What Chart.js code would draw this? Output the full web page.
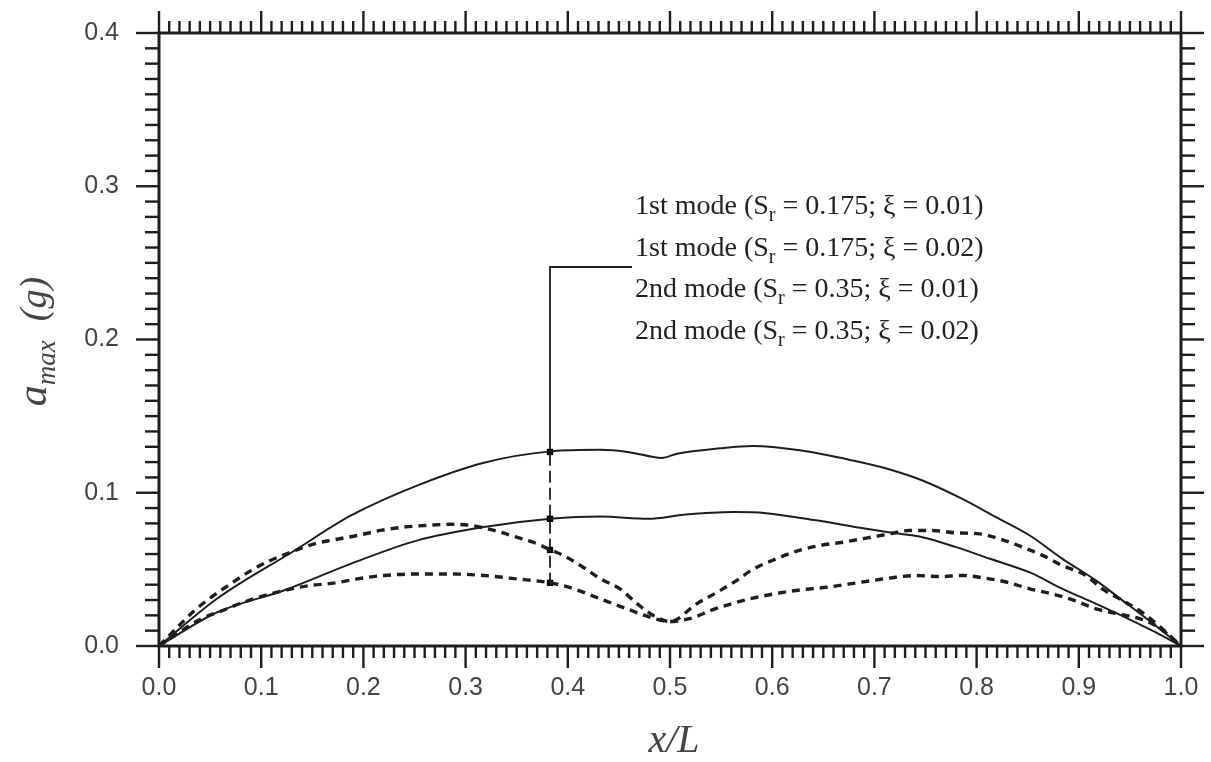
<!DOCTYPE html>
<html>
<head>
<meta charset="utf-8">
<script src="https://cdn.jsdelivr.net/npm/chart.js@4.4.1/dist/chart.umd.min.js"></script>
<style>
  html, body { margin: 0; padding: 0; background: #fff; }
  #wrap { width: 1211px; height: 762px; position: relative; }
</style>
</head>
<body>
<div id="wrap"><canvas id="amaxChart"></canvas></div>
<script>
// values: x/L and a_max (g)
const mode1Xi01X = [0, 0.057, 0.132, 0.1875, 0.253, 0.318, 0.383, 0.432, 0.46, 0.492, 0.507, 0.549, 0.581, 0.627, 0.679, 0.715, 0.747, 0.786, 0.819, 0.852, 0.884, 0.917, 0.943, 0.969, 1.0];
const mode1Xi01Y = [0, 0.031, 0.062, 0.085, 0.1048, 0.1196, 0.127, 0.128, 0.1265, 0.1227, 0.1255, 0.129, 0.1305, 0.1277, 0.121, 0.1152, 0.108, 0.096, 0.0841, 0.0721, 0.0569, 0.0427, 0.0296, 0.0165, 0];

const mode1Xi02X = [0, 0.057, 0.122, 0.1875, 0.253, 0.318, 0.383, 0.432, 0.479, 0.513, 0.562, 0.594, 0.643, 0.692, 0.725, 0.747, 0.78, 0.813, 0.852, 0.884, 0.917, 0.949, 0.975, 1.0];
const mode1Xi02Y = [0, 0.022, 0.0362, 0.0536, 0.0689, 0.0776, 0.083, 0.0845, 0.083, 0.0856, 0.0874, 0.0867, 0.082, 0.0765, 0.0732, 0.071, 0.0645, 0.0569, 0.048, 0.0373, 0.0275, 0.0176, 0.009, 0];

const mode2Xi01X = [0, 0.018, 0.0345, 0.051, 0.070, 0.090, 0.109, 0.129, 0.152, 0.171, 0.194, 0.217, 0.240, 0.262, 0.285, 0.305, 0.328, 0.350, 0.370, 0.383, 0.396, 0.415, 0.432, 0.451, 0.468, 0.484, 0.500, 0.526, 0.546, 0.565, 0.581, 0.604, 0.624, 0.647, 0.669, 0.692, 0.715, 0.734, 0.757, 0.780, 0.803, 0.822, 0.845, 0.865, 0.884, 0.907, 0.923, 0.943, 0.962, 0.980, 1.0];
const mode2Xi01Y = [0, 0.0122, 0.023, 0.0318, 0.0405, 0.0492, 0.0558, 0.0612, 0.0667, 0.0693, 0.0721, 0.0754, 0.0776, 0.0787, 0.0794, 0.0787, 0.0754, 0.071, 0.0667, 0.0627, 0.059, 0.0514, 0.0438, 0.0373, 0.0275, 0.0198, 0.0159, 0.0275, 0.035, 0.0427, 0.050, 0.0569, 0.0619, 0.0656, 0.0677, 0.0704, 0.0732, 0.0754, 0.0754, 0.0738, 0.0732, 0.070, 0.0645, 0.059, 0.0525, 0.046, 0.0373, 0.0296, 0.022, 0.0122, 0];

const mode2Xi02X = [0, 0.041, 0.0605, 0.083, 0.103, 0.126, 0.148, 0.171, 0.194, 0.22, 0.253, 0.285, 0.318, 0.35, 0.383, 0.406, 0.432, 0.458, 0.481, 0.50, 0.52, 0.542, 0.565, 0.585, 0.607, 0.63, 0.653, 0.676, 0.698, 0.721, 0.741, 0.764, 0.786, 0.809, 0.83, 0.852, 0.874, 0.896, 0.917, 0.939, 0.959, 0.978, 1.0];
const mode2Xi02Y = [0, 0.0176, 0.0227, 0.0286, 0.0329, 0.0368, 0.0395, 0.041, 0.0438, 0.046, 0.047, 0.047, 0.046, 0.0438, 0.0412, 0.0373, 0.0307, 0.0242, 0.0187, 0.016, 0.018, 0.0237, 0.0285, 0.0318, 0.0346, 0.0368, 0.0383, 0.0405, 0.0427, 0.0449, 0.046, 0.0453, 0.046, 0.0442, 0.0416, 0.0373, 0.034, 0.0296, 0.0242, 0.0209, 0.018, 0.0122, 0];

// leader line from the labels down to x/L = 0.383
const leaderX = [0.4628, 0.3826, 0.3826];
const leaderY = [0.2473, 0.2473, 0.1285];
const dropX = [0.3826, 0.3826];
const dropY = [0.1255, 0.0412];
const markerX = [0.3826, 0.3826, 0.3826, 0.3826];
const markerY = [0.1266, 0.083, 0.0627, 0.0412];

// label text, split into [text, subscript, text]
const seriesLabels = [
  ['1st mode (S', 'r', ' = 0.175; \u03BE = 0.01)'],
  ['1st mode (S', 'r', ' = 0.175; \u03BE = 0.02)'],
  ['2nd mode (S', 'r', ' = 0.35; \u03BE = 0.01)'],
  ['2nd mode (S', 'r', ' = 0.35; \u03BE = 0.02)']
];

const pts = (xs, ys) => xs.map((x, i) => ({ x: x, y: ys[i] }));

const INK = '#1e1e1e';
const SERIF = '"Liberation Serif", "Times New Roman", serif';
const SANS = '"Liberation Sans", Arial, sans-serif';

const solid = (data) => ({
  data: data, borderColor: INK, borderWidth: 2, fill: false,
  cubicInterpolationMode: 'monotone', pointRadius: 0
});
const dashed = (data) => ({
  data: data, borderColor: INK, borderWidth: 3.4, borderDash: [8, 6], fill: false,
  cubicInterpolationMode: 'monotone', pointRadius: 0
});

// frame with outward ticks on all four sides
const frameTicks = {
  id: 'frameTicks',
  afterDraw(chart) {
    const { ctx, chartArea: a, scales: { x, y } } = chart;
    const seg = (x1, y1, x2, y2) => { ctx.beginPath(); ctx.moveTo(x1, y1); ctx.lineTo(x2, y2); ctx.stroke(); };
    ctx.save();
    ctx.strokeStyle = INK;
    ctx.lineWidth = 2.4;
    for (let i = 0; i <= 100; i++) {
      const px = x.getPixelForValue(i / 100);
      const len = i % 10 === 0 ? 22 : 12;
      seg(px, a.bottom, px, a.bottom + len);
      seg(px, a.top, px, a.top - len);
    }
    for (let i = 0; i <= 40; i++) {
      const py = y.getPixelForValue(i / 100);
      const len = i % 10 === 0 ? 23 : 14;
      seg(a.left, py, a.left - len, py);
      seg(a.right, py, a.right + len, py);
    }
    ctx.lineWidth = 3;
    ctx.strokeRect(a.left, a.top, a.right - a.left, a.bottom - a.top);
    ctx.restore();
  }
};

function drawRuns(ctx, runs, x, y) {
  runs.forEach(r => {
    ctx.font = r.font;
    ctx.fillText(r.text, x, y + (r.shift || 0));
    x += ctx.measureText(r.text).width;
  });
}
function runsWidth(ctx, runs) {
  return runs.reduce((w, r) => { ctx.font = r.font; return w + ctx.measureText(r.text).width; }, 0);
}

// series labels and axis titles
const texts = {
  id: 'texts',
  afterDraw(chart) {
    const { ctx, chartArea: a } = chart;
    ctx.save();
    ctx.textBaseline = 'alphabetic';
    ctx.textAlign = 'left';
    ctx.fillStyle = '#222';
    seriesLabels.forEach((parts, i) => {
      drawRuns(ctx, [
        { text: parts[0], font: '28px ' + SERIF },
        { text: parts[1], font: '20px ' + SERIF, shift: 7 },
        { text: parts[2], font: '28px ' + SERIF }
      ], 635, 214 + i * 41.7);
    });

    ctx.fillStyle = '#444';
    // y title: a_max (g)
    const yRuns = [
      { text: 'a', font: 'italic 42px ' + SERIF },
      { text: 'max', font: 'italic 27px ' + SERIF, shift: 9 },
      { text: '  (g)', font: 'italic 38px ' + SERIF }
    ];
    ctx.save();
    ctx.translate(46, (a.top + a.bottom) / 2 + 2);
    ctx.rotate(-Math.PI / 2);
    drawRuns(ctx, yRuns, -runsWidth(ctx, yRuns) / 2, 0);
    ctx.restore();

    // x title: x/L
    const xRuns = [{ text: 'x/L', font: 'italic 40px ' + SERIF }];
    drawRuns(ctx, xRuns, (a.left + a.right) / 2 + 4 - runsWidth(ctx, xRuns) / 2, 752);
    ctx.restore();
  }
};

const tickFont = { family: SANS, size: 25 };

new Chart(document.getElementById('amaxChart').getContext('2d'), {
  type: 'line',
  data: {
    datasets: [
      solid(pts(mode1Xi01X, mode1Xi01Y)),
      solid(pts(mode1Xi02X, mode1Xi02Y)),
      dashed(pts(mode2Xi01X, mode2Xi01Y)),
      dashed(pts(mode2Xi02X, mode2Xi02Y)),
      { data: pts(leaderX, leaderY), borderColor: INK, borderWidth: 1.8, pointRadius: 0, fill: false },
      { data: pts(dropX, dropY), borderColor: INK, borderWidth: 1.8, borderDash: [12, 5], pointRadius: 0, fill: false },
      { data: pts(markerX, markerY), showLine: false, pointStyle: 'rect', pointRadius: 4.5,
        pointBackgroundColor: '#000', pointBorderColor: '#000', pointBorderWidth: 0 }
    ]
  },
  options: {
    responsive: true,
    maintainAspectRatio: false,
    animation: false,
    layout: { padding: { top: 33, right: 30, left: 0, bottom: 0 } },
    plugins: { legend: { display: false }, tooltip: { enabled: false } },
    scales: {
      x: {
        type: 'linear', min: 0, max: 1,
        grid: { display: false, drawTicks: false },
        border: { display: false },
        ticks: { stepSize: 0.1, padding: 27, color: '#444', font: tickFont, maxRotation: 0, autoSkip: false,
                 callback: v => v.toFixed(1) },
        afterFit: s => { s.height = 116; s.paddingLeft = 0; s.paddingRight = 0; }
      },
      y: {
        type: 'linear', min: 0, max: 0.4,
        grid: { display: false, drawTicks: false },
        border: { display: false },
        ticks: { stepSize: 0.1, padding: 40, color: '#444', font: tickFont,
                 callback: v => v.toFixed(1) },
        afterFit: s => { s.width = 159; s.paddingTop = 0; s.paddingBottom = 0; }
      }
    }
  },
  plugins: [frameTicks, texts]
});
</script>
</body>
</html>
